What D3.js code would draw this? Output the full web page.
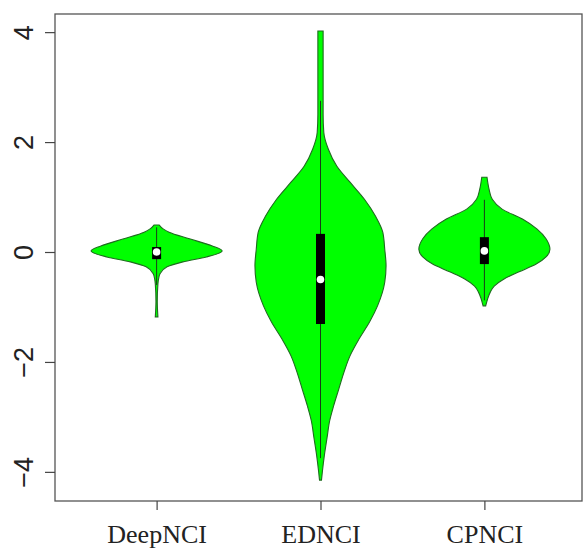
<!DOCTYPE html>
<html>
<head>
<meta charset="utf-8">
<script src="https://cdn.jsdelivr.net/npm/d3@7"></script>
<style>
  body { margin: 0; background: #fff; }
</style>
</head>
<body>
<div id="chart"></div>
<script>
const width = 583;
const height = 550;

const categories = ["DeepNCI", "EDNCI", "CPNCI"];
const yTicks = [-4, -2, 0, 2, 4];

// violin outlines: value and relative width (1 = widest)
const deepValues  = [0.49, 0.42, 0.36, 0.24, 0.11, 0.02, -0.09, -0.18, -0.27, -0.40, -0.49, -0.58, -0.90, -1.18];
const deepDensity = [0.04, 0.10, 0.19, 0.50, 0.85, 1.00, 0.76, 0.40, 0.16, 0.05, 0.03, 0.02, 0.01, 0.02];

const edValues  = [4.02, 3.5, 3.0, 2.5, 2.18, 1.87, 1.56, 1.27, 0.96, 0.65, 0.36, 0.05, -0.25, -0.55, -0.98, -1.27, -1.58, -1.89, -2.18, -2.49, -2.80, -3.07, -3.38, -3.69, -3.98, -4.15];
const edDensity = [0.04, 0.04, 0.04, 0.04, 0.05, 0.12, 0.25, 0.45, 0.67, 0.84, 0.95, 0.98, 1.00, 0.98, 0.87, 0.75, 0.59, 0.45, 0.36, 0.28, 0.20, 0.14, 0.10, 0.06, 0.03, 0.015];

const cpValues  = [1.36, 1.15, 0.96, 0.78, 0.60, 0.42, 0.24, 0.05, -0.09, -0.22, -0.36, -0.49, -0.62, -0.73, -0.85, -0.98];
const cpDensity = [0.04, 0.07, 0.12, 0.27, 0.58, 0.80, 0.94, 1.00, 0.94, 0.79, 0.53, 0.30, 0.15, 0.09, 0.05, 0.02];

// box plot summaries
const boxQ1       = [-0.13, -1.31, -0.22];
const boxMedian   = [0.00, -0.50, 0.02];
const boxQ3       = [0.09, 0.33, 0.27];
const whiskerLow  = [-0.60, -3.75, -0.88];
const whiskerHigh = [0.45, 2.75, 0.95];

const violins = [
  { values: deepValues, density: deepDensity },
  { values: edValues, density: edDensity },
  { values: cpValues, density: cpDensity }
];

const svg = d3.select("#chart")
  .append("svg")
  .attr("width", width)
  .attr("height", height);

const x = d3.scaleLinear().domain([0.38, 3.62]).range([55, 586]);
const y = d3.scaleLinear().domain([-4.53, 4.33]).range([501, 14]);

// half width of the widest part of each violin, in x units
const halfWidth = 0.4;

violins.forEach((v, i) => {
  const c = i + 1;
  const pts = v.values.map((val, k) => ({ v: val, d: v.density[k] }));

  const area = d3.area()
    .y(d => y(d.v))
    .x0(d => x(c - d.d * halfWidth))
    .x1(d => x(c + d.d * halfWidth))
    .curve(d3.curveMonotoneY);

  svg.append("path")
    .attr("d", area(pts))
    .attr("fill", "#00ff00")
    .attr("stroke", "#1f6b1f")
    .attr("stroke-width", 1.1);

  // whisker
  svg.append("line")
    .attr("x1", x(c)).attr("x2", x(c))
    .attr("y1", y(whiskerLow[i])).attr("y2", y(whiskerHigh[i]))
    .attr("stroke", "#1a3a1a")
    .attr("stroke-width", 1);

  // box
  svg.append("rect")
    .attr("x", x(c) - 4.5)
    .attr("width", 9)
    .attr("y", y(boxQ3[i]))
    .attr("height", y(boxQ1[i]) - y(boxQ3[i]))
    .attr("fill", "#000");

  // median
  svg.append("circle")
    .attr("cx", x(c))
    .attr("cy", y(boxMedian[i]))
    .attr("r", 3.8)
    .attr("fill", "#fff");
});

// frame
svg.append("rect")
  .attr("x", 55).attr("y", 14)
  .attr("width", 527).attr("height", 487)
  .attr("fill", "none")
  .attr("stroke", "#555")
  .attr("stroke-width", 1.3);

// y axis
const yAxis = svg.append("g")
  .attr("transform", "translate(55,0)")
  .call(d3.axisLeft(y).tickValues(yTicks).tickSize(10).tickPadding(0));
yAxis.select(".domain").remove();
yAxis.selectAll(".tick line").attr("stroke", "#444").attr("stroke-width", 1.2);
yAxis.selectAll(".tick text")
  .attr("transform", "rotate(-90)")
  .attr("x", 0)
  .attr("y", -22)
  .attr("dy", 0)
  .attr("text-anchor", "middle")
  .style("font-size", "27px")
  .style("font-family", "'Liberation Sans', Arial, sans-serif")
  .attr("fill", "#222");

// x axis
const xAxis = svg.append("g")
  .attr("transform", "translate(0,501)")
  .call(d3.axisBottom(x).tickValues([1, 2, 3]).tickFormat(d => categories[d - 1]).tickSize(9));
xAxis.select(".domain").remove();
xAxis.selectAll(".tick line").attr("stroke", "#444").attr("stroke-width", 1.2);
xAxis.selectAll(".tick text")
  .attr("y", 42)
  .attr("dy", 0)
  .style("font-size", "26px")
  .style("font-family", "'Liberation Serif', 'Times New Roman', serif")
  .attr("fill", "#222");
</script>
</body>
</html>
